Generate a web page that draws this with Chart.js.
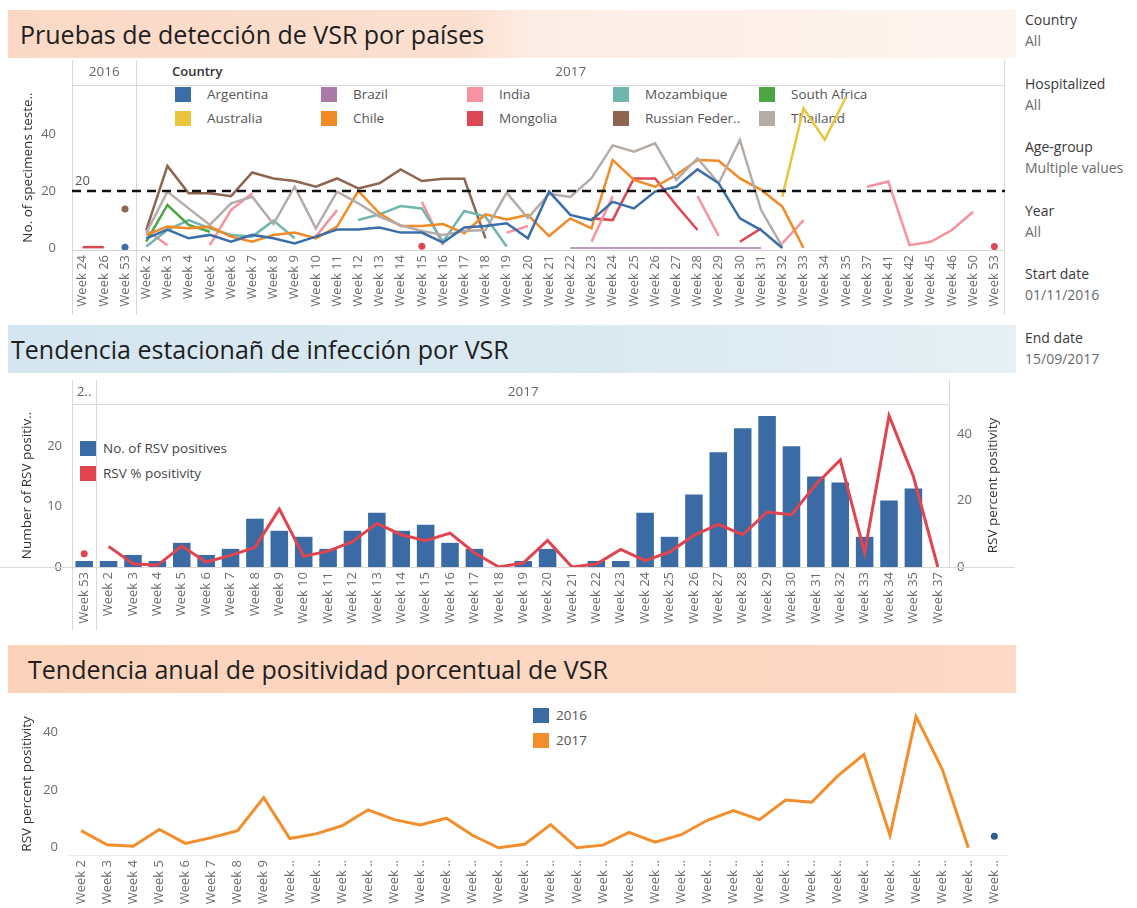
<!DOCTYPE html>
<html lang="es">
<head>
<meta charset="UTF-8">
<meta name="viewport" content="width=device-width, initial-scale=1.0">
<title>Vigilancia VSR</title>
<script src="https://cdn.jsdelivr.net/npm/chart.js"></script>
<style>
  body { margin: 0; width: 1137px; height: 908px; overflow: hidden; position: relative; background: #fff; font-family: "Open Sans", sans-serif; }
  .banner { position: absolute; left: 8px; width: 1008px; height: 48px; line-height: 48px; font-size: 25px; color: #1e1e1e; white-space: nowrap; box-sizing: border-box; }
  .box { position: absolute; left: 0; }
  .box canvas { position: relative; z-index: 1; display: block; }
  .legend { position: absolute; left: 0; top: 0; z-index: 0; font-size: 13.5px; color: #555; }
  .item { position: absolute; white-space: nowrap; line-height: 15px; }
  .sw { position: absolute; left: 0; top: 0; width: 16px; height: 15px; }
  .filters { position: absolute; left: 1025px; top: 0; font-size: 14px; }
  .filters div { position: absolute; left: 0; white-space: nowrap; line-height: 18px; }
  .filters .k { color: #3a3a3a; }
  .filters .v { color: #6a6a6a; }
</style>
</head>
<body>
<div class="banner" style="top:10px; padding-left:12px; background:linear-gradient(to right,#fad8c5 0%,#fbe0d1 46%,#fdede5 52%,#fef4ef 100%);">Pruebas de detección de VSR por países</div>
<div class="banner" style="top:325px; padding-left:3px; background:linear-gradient(to right,#d5e6f0 0%,#dbe9f1 60%,#e6f0f5 100%);">Tendencia estacionañ de infección por VSR</div>
<div class="banner" style="top:645px; padding-left:20px; background:linear-gradient(to right,#fbd3bb 0%,#fcd9c5 100%);">Tendencia anual de positividad porcentual de VSR</div>

<div class="legend" id="legend1"></div>
<div class="box" style="top:58px"><canvas id="chart1" width="1015" height="262"></canvas></div>

<div class="legend" id="legend2"></div>
<div class="box" style="top:375px"><canvas id="chart2" width="1015" height="260"></canvas></div>

<div class="legend" id="legend3"></div>
<div class="box" style="top:695px"><canvas id="chart3" width="1015" height="213"></canvas></div>

<div class="filters" id="filters"></div>

<script>
const _ = null;

// ---------- Pruebas por país ----------
const weeks2016 = ['Week 24', 'Week 26', 'Week 53'];
const weeks2017 = ['Week 2', 'Week 3', 'Week 4', 'Week 5', 'Week 6', 'Week 7', 'Week 8', 'Week 9', 'Week 10', 'Week 11',
  'Week 12', 'Week 13', 'Week 14', 'Week 15', 'Week 16', 'Week 17', 'Week 18', 'Week 19', 'Week 20', 'Week 21',
  'Week 22', 'Week 23', 'Week 24', 'Week 25', 'Week 26', 'Week 27', 'Week 28', 'Week 29', 'Week 30', 'Week 31',
  'Week 32', 'Week 33', 'Week 34', 'Week 35', 'Week 37', 'Week 41', 'Week 42', 'Week 45', 'Week 46', 'Week 50',
  'Week 53'];
const years = ['2016', '2017'];
const countries = ['Argentina', 'Australia', 'Brazil', 'Chile', 'India', 'Mongolia', 'Mozambique', 'Russian Federation', 'South Africa', 'Thailand'];

// 3 values for 2016, then 41 for 2017
const argentina = [_, _, 0.3,
  3.4, 6.5, 3.4, 4.6, 2.2, 4.6, 3.4, 1.6, 4.0, 6.5,
  6.5, 7.2, 5.4, 5.4, 1.9, 7.2, 7.7, 8.7, 3.4, 19.8,
  11.6, 9.8, 16.2, 13.9, 19.8, 21.5, 27.6, 22.7, 10.4, 6.3,
  0, _, _, _, _, _, _, _, _, _,
  _];
const australia = [_, _, _,
  _, _, _, _, _, _, _, _, _, _,
  _, _, _, _, _, _, _, _, _, _,
  _, _, _, _, _, _, _, _, _, _,
  18, 49, 38, 53, _, _, _, _, _, _,
  _];
const brazil = [_, _, _,
  _, _, _, _, _, _, _, _, _, _,
  _, _, _, _, _, _, _, _, _, _,
  0, 0, 0, 0, 0, 0, 0, 0, 0, 0,
  _, _, _, _, _, _, _, _, _, _,
  _];
const chile = [_, _, _,
  4.6, 7.5, 6.9, 7.5, 4.0, 2.2, 4.6, 5.4, 3.4, 7.5,
  20, 12.2, 7.7, 7.7, 8.4, 5.2, 11.8, 10, 11.6, 4.2,
  10.4, 6.9, 30.9, 23.9, 21.5, 25.6, 30.9, 30.6, 24.4, 20.4,
  14.5, 0, _, _, _, _, _, _, _, _,
  _];
const india = [_, _, _,
  6.3, 1.0, _, 1.0, 13.3, 19.2, _, _, 4.0, 13.3,
  _, _, _, 16.2, 1.0, _, _, 5.4, 7.7, _,
  _, 2.2, 18.2, _, _, _, 18.2, 4.2, _, _,
  1.6, 9.8, _, _, 21.5, 23.3, 1.0, 2.2, 6.3, 12.7,
  _];
const mongolia = [0.3, 0.3, _,
  _, _, _, _, _, _, _, _, _, _,
  _, _, _, 0.6, _, _, _, _, _, _,
  _, 10.4, 9.8, 24.4, 24.4, 15, 6.3, _, 2.2, 6.9,
  _, _, _, _, _, _, _, _, _, _,
  0.5];
const mozambique = [_, _, _,
  0.5, 6.3, 9.8, 6.9, 4.6, 4.0, 9.6, 3.4, _, _,
  9.8, 11.8, 14.7, 13.9, 2.2, 13, 11, 0.5, _, _,
  _, _, _, _, _, _, _, _, _, _,
  _, _, _, _, _, _, _, _, _, _,
  _];
const russia = [_, _, 13.7,
  6.3, 28.8, 19.2, 19.2, 18.2, 26.5, 24.4, 23.5, 21.5, 24.4,
  20.9, 22.7, 27.6, 23.5, 24.3, 24.3, 3.4, _, _, _,
  _, _, _, _, _, _, _, _, _, _,
  _, _, _, _, _, _, _, _, _, _,
  _];
const southAfrica = [_, _, _,
  2.2, 15.1, 8.1, 5.7, _, _, _, _, _, _,
  _, _, _, _, _, _, _, _, _, _,
  _, _, _, _, _, _, _, _, _, _,
  _, _, _, _, _, _, _, _, _, _,
  _];
const thailand = [_, _, _,
  5.3, 19.8, 13.9, 8.1, 15.7, 18, 8.4, 21.5, 6.9, 19.8,
  15.7, 11, 8, 6, 4.6, 6, 6.3, 19.4, 10.5, 19,
  17.9, 24.5, 36, 33.8, 36.7, 23.9, 31.5, 22.7, 37.9, 13.3,
  0.5, _, _, _, _, _, _, _, _, _,
  _];
const countryValues = [argentina, australia, brazil, chile, india, mongolia, mozambique, russia, southAfrica, thailand];
const targetTests = 20;
const testTicks = [0, 20, 40];

// ---------- Tendencia estacional ----------
const rsvWeeks = ['Week 53', 'Week 2', 'Week 3', 'Week 4', 'Week 5', 'Week 6', 'Week 7', 'Week 8', 'Week 9', 'Week 10',
  'Week 11', 'Week 12', 'Week 13', 'Week 14', 'Week 15', 'Week 16', 'Week 17', 'Week 18', 'Week 19', 'Week 20',
  'Week 21', 'Week 22', 'Week 23', 'Week 24', 'Week 25', 'Week 26', 'Week 27', 'Week 28', 'Week 29', 'Week 30',
  'Week 31', 'Week 32', 'Week 33', 'Week 34', 'Week 35', 'Week 37'];
const rsvSeries = ['No. of RSV positives', 'RSV % positivity'];
const rsvPositives = [1, 1, 2, 1, 4, 2, 3, 8, 6, 5,
  3, 6, 9, 6, 7, 4, 3, 0, 1, 3,
  0, 1, 1, 9, 5, 12, 19, 23, 25, 20,
  15, 14, 5, 11, 13, 0];
const rsvPositivity = [4.0, 6.2, 1.0, 0.5, 6.3, 1.5, 3.5, 5.9, 17.4, 3.2,
  4.8, 7.6, 13.1, 9.7, 7.9, 10.2, 4.3, 0, 1.2, 8.0,
  0, 0.9, 5.3, 1.9, 4.5, 9.5, 12.8, 9.7, 16.5, 15.7,
  24.8, 32.2, 4.3, 45.5, 27.2, 0];
const countTicks = [0, 10, 20];
const pctTicks = [0, 20, 40];

// ---------- Tendencia anual ----------
const annualWeeks = ['Week 2', 'Week 3', 'Week 4', 'Week 5', 'Week 6', 'Week 7', 'Week 8', 'Week 9', 'Week 10', 'Week 11',
  'Week 12', 'Week 13', 'Week 14', 'Week 15', 'Week 16', 'Week 17', 'Week 18', 'Week 19', 'Week 20', 'Week 21',
  'Week 22', 'Week 23', 'Week 24', 'Week 25', 'Week 26', 'Week 27', 'Week 28', 'Week 29', 'Week 30', 'Week 31',
  'Week 32', 'Week 33', 'Week 34', 'Week 35', 'Week 37', 'Week 53'];
const positivity2016 = [_, _, _, _, _, _, _, _, _, _,
  _, _, _, _, _, _, _, _, _, _,
  _, _, _, _, _, _, _, _, _, _,
  _, _, _, _, _, 4.0];
const positivity2017 = [5.9, 1.0, 0.5, 6.3, 1.5, 3.5, 5.9, 17.3, 3.2, 4.8,
  7.6, 13.1, 9.7, 7.9, 10.2, 4.3, 0, 1.2, 8.0, 0,
  0.9, 5.3, 1.9, 4.5, 9.5, 12.8, 9.7, 16.5, 15.7, 24.8,
  32.2, 4.3, 45.3, 27.2, 0, _];

const filterNames = ['Country', 'Hospitalized', 'Age-group', 'Year', 'Start date', 'End date'];
const filterValues = ['All', 'All', 'Multiple values', 'All', '01/11/2016', '15/09/2017'];

// colours
const countryColors = ['#3b6ea8', '#e8c53a', '#a97aa6', '#f28a25', '#f7929e', '#dd4752', '#70b6ae', '#8d6550', '#4da544', '#b5aca8'];
const countryWidths = [2.5, 2.5, 1.5, 2.5, 2.5, 2.5, 2.5, 2.5, 2.5, 2.5];
const countryOrder = [0, 9, 8, 2, 6, 7, 4, 5, 3, 1];
const blue = '#3b6ba5';
const red = '#e0444e';
const orange = '#f28e2b';
const font = '"Open Sans", sans-serif';

// ---------- plugins ----------
const panelPlugin = {
  id: 'panels',
  beforeDatasetsDraw(chart, args, opts) {
    if (!opts.labels) return;
    const { ctx, chartArea: a, scales: { x } } = chart;
    const sx = Math.round((x.getPixelForTick(opts.split) + x.getPixelForTick(opts.split + 1)) / 2) + 0.5;
    const vline = (px, y0, y1) => { ctx.beginPath(); ctx.moveTo(px, y0); ctx.lineTo(px, y1); ctx.stroke(); };
    ctx.save();
    ctx.strokeStyle = '#d9d9d9';
    ctx.lineWidth = 1;
    vline(Math.round(a.left) + 0.5, opts.top, opts.bottom);
    vline(sx, opts.top, opts.bottom);
    vline(Math.round(a.right) - 0.5, opts.top, opts.rightBottom);
    const hy = Math.round(a.top) + 0.5;
    ctx.beginPath(); ctx.moveTo(a.left, hy); ctx.lineTo(a.right, hy); ctx.stroke();
    if (opts.baseline) {
      const by = Math.round(a.bottom) + 0.5;
      ctx.beginPath(); ctx.moveTo(0, by); ctx.lineTo(chart.width, by); ctx.stroke();
    }
    ctx.fillStyle = '#666';
    ctx.font = '13.5px ' + font;
    ctx.textAlign = 'center';
    ctx.textBaseline = 'middle';
    ctx.fillText(opts.labels[0], (a.left + sx) / 2, opts.headerY);
    ctx.fillText(opts.labels[1], (sx + a.right) / 2, opts.headerY);
    ctx.restore();
  }
};

const refLinePlugin = {
  id: 'refLine',
  afterDatasetsDraw(chart, args, opts) {
    if (opts.value == null) return;
    const { ctx, chartArea: a, scales: { y } } = chart;
    const py = Math.round(y.getPixelForValue(opts.value));
    ctx.save();
    ctx.strokeStyle = '#111';
    ctx.lineWidth = 2.5;
    ctx.setLineDash([9, 6]);
    ctx.beginPath(); ctx.moveTo(a.left, py); ctx.lineTo(a.right, py); ctx.stroke();
    ctx.setLineDash([]);
    ctx.fillStyle = '#555';
    ctx.font = '13px ' + font;
    ctx.textBaseline = 'bottom';
    ctx.fillText(String(opts.value), a.left + 3, py - 3);
    ctx.restore();
  }
};

const sideTitlePlugin = {
  id: 'sideTitles',
  afterDraw(chart, args, opts) {
    const { ctx, chartArea: a } = chart;
    const cy = (a.top + a.bottom) / 2;
    ctx.save();
    ctx.fillStyle = '#333';
    ctx.font = '13.5px ' + font;
    ctx.textAlign = 'center';
    ctx.textBaseline = 'middle';
    [[opts.left, opts.leftX], [opts.right, opts.rightX]].forEach(([t, px]) => {
      if (!t) return;
      ctx.save(); ctx.translate(px, cy); ctx.rotate(-Math.PI / 2); ctx.fillText(t, 0, 0); ctx.restore();
    });
    ctx.restore();
  }
};

Chart.register(panelPlugin, refLinePlugin, sideTitlePlugin);

// single points with no neighbour in their panel are drawn as dots
function lonePoint(split) {
  return ctx => {
    const d = ctx.dataset.data, i = ctx.dataIndex;
    if (d[i] == null) return 0;
    const prev = i === split + 1 ? null : d[i - 1];
    const next = i === split ? null : d[i + 1];
    return prev == null && next == null ? 3.5 : 0;
  };
}
const panelBreak = split => ({ borderColor: c => c.p0DataIndex === split ? 'rgba(0,0,0,0)' : undefined });

const tickFont = size => ({ family: font, size: size });
const fixedTicks = list => s => { s.ticks = list.map(v => ({ value: v })); };
const noGrid = { display: false, drawTicks: false };

// ---------- chart 1 ----------
new Chart(document.getElementById('chart1'), {
  type: 'line',
  data: {
    labels: weeks2016.concat(weeks2017),
    datasets: countries.map((c, k) => ({
      label: c,
      data: countryValues[k],
      borderColor: countryColors[k],
      backgroundColor: countryColors[k],
      borderWidth: countryWidths[k],
      pointRadius: lonePoint(2),
      pointBorderWidth: 0,
      spanGaps: false,
      segment: panelBreak(2),
      order: countryOrder[k]
    }))
  },
  options: {
    responsive: false,
    animation: false,
    layout: { padding: { top: 27, right: 3 } },
    plugins: {
      legend: { display: false },
      tooltip: { enabled: false },
      panels: { split: 2, labels: years, headerY: 14, top: 2, bottom: 257, rightBottom: 257 },
      refLine: { value: targetTests },
      sideTitles: { left: 'No. of specimens teste..', leftX: 28 }
    },
    scales: {
      x: {
        offset: true,
        grid: noGrid,
        border: { color: '#d4d4d4' },
        ticks: { autoSkip: false, maxRotation: 90, minRotation: 90, padding: 5, color: '#6b6b6b', font: tickFont(13) },
        afterFit: s => { s.height = 70; }
      },
      y: {
        min: -0.7, max: 57.2,
        afterBuildTicks: fixedTicks(testTicks),
        grid: noGrid,
        border: { display: false },
        ticks: { padding: 16, color: '#6b6b6b', font: tickFont(13) },
        afterFit: s => { s.width = 72; }
      }
    }
  }
});

// ---------- chart 2 ----------
new Chart(document.getElementById('chart2'), {
  type: 'bar',
  data: {
    labels: rsvWeeks,
    datasets: [
      {
        type: 'line', label: rsvSeries[1], data: rsvPositivity, yAxisID: 'y1',
        borderColor: red, backgroundColor: red, borderWidth: 3,
        pointRadius: lonePoint(0), pointBorderWidth: 0, segment: panelBreak(0), order: 0
      },
      {
        type: 'bar', label: rsvSeries[0], data: rsvPositives, yAxisID: 'y',
        backgroundColor: blue, barPercentage: 0.72, categoryPercentage: 1, order: 1
      }
    ]
  },
  options: {
    responsive: false,
    animation: false,
    layout: { padding: { top: 29 } },
    plugins: {
      legend: { display: false },
      tooltip: { enabled: false },
      panels: { split: 0, labels: [years[0].slice(0, 1) + '..', years[1]], headerY: 17, top: 5, bottom: 255, rightBottom: 192, baseline: true },
      sideTitles: { left: 'Number of RSV positiv..', leftX: 27, right: 'RSV percent positivity', rightX: 993 }
    },
    scales: {
      x: {
        offset: true,
        grid: noGrid,
        border: { display: false },
        ticks: { autoSkip: false, maxRotation: 90, minRotation: 90, padding: 5, color: '#6b6b6b', font: tickFont(13) },
        afterFit: s => { s.height = 68; }
      },
      y: {
        position: 'left', min: 0, max: 27,
        afterBuildTicks: fixedTicks(countTicks),
        grid: noGrid,
        border: { display: false },
        ticks: { padding: 10, color: '#6b6b6b', font: tickFont(13) },
        afterFit: s => { s.width = 72; }
      },
      y1: {
        position: 'right', min: 0, max: 49,
        afterBuildTicks: fixedTicks(pctTicks),
        grid: noGrid,
        border: { display: false },
        ticks: { padding: 7, color: '#6b6b6b', font: tickFont(13) },
        afterFit: s => { s.width = 65; }
      }
    }
  }
});

// ---------- chart 3 ----------
new Chart(document.getElementById('chart3'), {
  type: 'line',
  data: {
    labels: annualWeeks,
    datasets: [
      { label: years[0], data: positivity2016, borderColor: blue, backgroundColor: '#2f5d8c', pointRadius: 3.5, pointBorderWidth: 0, showLine: false },
      { label: years[1], data: positivity2017, borderColor: orange, backgroundColor: orange, borderWidth: 3, pointRadius: 0 }
    ]
  },
  options: {
    responsive: false,
    animation: false,
    layout: { padding: { top: 5, right: 3 } },
    plugins: {
      legend: { display: false },
      tooltip: { enabled: false },
      sideTitles: { left: 'RSV percent positivity', leftX: 27 }
    },
    scales: {
      x: {
        offset: true,
        grid: noGrid,
        border: { color: '#ececec' },
        ticks: {
          autoSkip: false, maxRotation: 90, minRotation: 90, padding: 5, color: '#6b6b6b', font: tickFont(13),
          callback(v) { const l = this.getLabelForValue(v); return l.length > 6 ? 'Week ..' : l; }
        },
        afterFit: s => { s.height = 53; }
      },
      y: {
        min: -2.5, max: 46.6,
        afterBuildTicks: fixedTicks(pctTicks),
        grid: noGrid,
        border: { display: false },
        ticks: { padding: 10, color: '#6b6b6b', font: tickFont(13) },
        afterFit: s => { s.width = 68; }
      }
    }
  }
});

// ---------- HTML legends & filters ----------
function addItem(parent, x, y, color, text, gap) {
  const el = document.createElement('div');
  el.className = 'item';
  el.style.left = x + 'px';
  el.style.top = y + 'px';
  el.innerHTML = '<span class="sw" style="background:' + color + '"></span>';
  const t = document.createElement('span');
  t.textContent = text;
  t.style.marginLeft = gap + 'px';
  el.appendChild(t);
  parent.appendChild(el);
  return t;
}

const lg1 = document.getElementById('legend1');
const head = document.createElement('div');
head.className = 'item';
head.style.cssText = 'left:172px; top:64px; color:#333; font-weight:600; font-size:13px;';
head.textContent = 'Country';
lg1.appendChild(head);
countries.forEach((c, i) => {
  const name = c.length > 15 ? c.slice(0, 13) + '..' : c;
  addItem(lg1, 175 + Math.floor(i / 2) * 146, 87 + (i % 2) * 24, countryColors[i], name, 32);
});

const lg2 = document.getElementById('legend2');
addItem(lg2, 80, 441, blue, rsvSeries[0], 23).style.color = '#444';
addItem(lg2, 80, 466, red, rsvSeries[1], 23).style.color = '#444';

const lg3 = document.getElementById('legend3');
addItem(lg3, 533, 708, blue, years[0], 23);
addItem(lg3, 533, 733, orange, years[1], 23);

const fl = document.getElementById('filters');
filterNames.forEach((n, i) => {
  const k = document.createElement('div');
  k.className = 'k';
  k.style.top = (11 + i * 63.6) + 'px';
  k.textContent = n;
  const v = document.createElement('div');
  v.className = 'v';
  v.style.top = (32 + i * 63.6) + 'px';
  v.textContent = filterValues[i];
  fl.appendChild(k);
  fl.appendChild(v);
});
</script>
</body>
</html>
